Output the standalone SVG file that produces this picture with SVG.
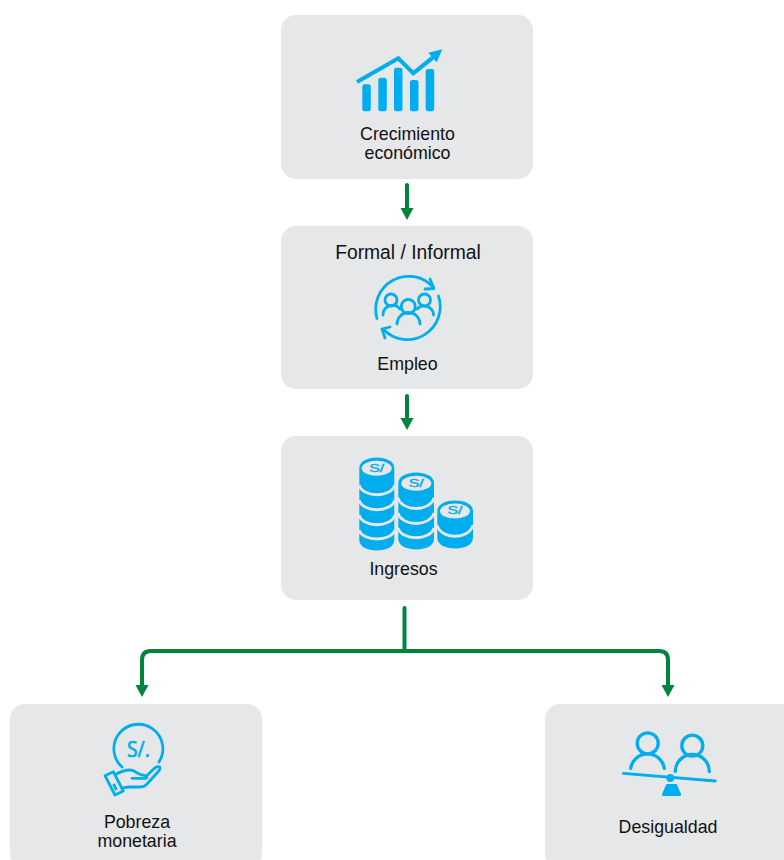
<svg xmlns="http://www.w3.org/2000/svg" width="784" height="860" viewBox="0 0 784 860">
<style>
.box{fill:#e6e7e8}
.t{font-family:"Liberation Sans",Arial,sans-serif;font-size:17.8px;fill:#111;text-anchor:middle}
.c{fill:none;stroke:#00843d;stroke-width:4;stroke-linecap:round}
.h{fill:#00843d}
.i{fill:none;stroke:#00aeef;stroke-width:2.8;stroke-linecap:round;stroke-linejoin:round}
.e{stroke-width:3.3}
.f{fill:#00aeef}
.s{font-family:"Liberation Sans",Arial,sans-serif;font-size:11px;fill:#00aeef;stroke:#00aeef;stroke-width:.4;text-anchor:middle}
.sep{fill:none;stroke:#e6e7e8;stroke-width:2.8}
.top{fill:#e6e7e8}
</style>
<g id="connectors">
<path d="M407 185V207" class="c"/><path class="h" d="M400.500 208H413.500L407 220Z"/>
<path d="M407 396V417" class="c"/><path class="h" d="M400.500 418H413.500L407 430Z"/>
<path d="M404.500 608V651" class="c"/>
<path d="M142 686V660Q142 651 151 651H659Q668 651 668 660V686" class="c"/>
<path class="h" d="M135.500 685H148.500L142 697Z"/><path class="h" d="M661.500 685H674.500L668 697Z"/>
</g>
<g id="n1">
<rect class="box" x="281" y="15" width="252" height="164" rx="15"/>
<path d="M357 82L398.300 58.300L413.300 73.300L436 55" fill="none" stroke="#00aeef" stroke-width="4.200"/>
<path class="f" d="M428.300 52.700L442.300 49.300L436.700 62.300Z"/>
<rect class="f" x="362.300" y="84.300" width="8.500" height="27" rx="2.500"/>
<rect class="f" x="378.300" y="77.700" width="8.500" height="33.600" rx="2.500"/>
<rect class="f" x="394" y="67.700" width="8.500" height="43.600" rx="2.500"/>
<rect class="f" x="410" y="80" width="8.500" height="31.300" rx="2.500"/>
<rect class="f" x="425.700" y="69" width="8.500" height="42.300" rx="2.500"/>
<text class="t" x="407.500" y="139.500">Crecimiento</text>
<text class="t" x="407.500" y="158.500">económico</text>
</g>
<g id="n2">
<rect class="box" x="281" y="226" width="252" height="163" rx="15"/>
<text class="t" x="408" y="258.500" style="font-size:19.300px">Formal / Informal</text>
<path class="i" d="M377 318.500A33 33 0 0 1 433 287"/><path class="i" d="M430 279L434 288.500L425 289"/>
<path class="i" d="M438.500 296A33 33 0 0 1 384 330"/><path class="i" d="M390 327L382 329L385 338"/>
<circle class="i" cx="391" cy="300" r="6"/><circle class="i" cx="424.500" cy="300" r="6"/><circle class="i" cx="408.300" cy="306.500" r="7"/>
<path class="i" d="M383 315A9.500 9.500 0 0 1 400 309"/><path class="i" d="M417 309A9.500 9.500 0 0 1 433.500 315"/><path class="i" d="M397 324A11.500 11.500 0 0 1 420 324"/>
<text class="t" x="407.500" y="369.500">Empleo</text>
</g>
<g id="n3">
<rect class="box" x="281" y="436" width="252" height="164" rx="15"/>
<path class="f" d="M359.300 468C359.300 454 394.300 454 394.300 468V540C394.300 554 359.300 554 359.300 540Z"/>
<path class="sep" d="M359 485C363 498 391 498 395 485M359 500C363 513 391 513 395 500M359 515C363 528 391 528 395 515M359 530C363 542 391 542 395 530"/>
<ellipse class="top" cx="376.700" cy="468.300" rx="15" ry="7.500"/>
<text class="s" x="376.700" y="471.700" textLength="15" lengthAdjust="spacingAndGlyphs">S/</text>
<path class="f" d="M398.300 483C398.300 469 434 469 434 483V539C434 553 398.300 553 398.300 539Z"/>
<path class="sep" d="M398 498C402 512 430 512 434 498M398 513C402 527 430 527 434 513M398 528C402 541 430 541 434 528"/>
<ellipse class="top" cx="416.300" cy="483.300" rx="15" ry="7.500"/>
<text class="s" x="416.300" y="486.700" textLength="15" lengthAdjust="spacingAndGlyphs">S/</text>
<path class="f" d="M437.300 511C437.300 497 473 497 473 511V538C473 552 437.300 552 437.300 538Z"/>
<path class="sep" d="M437 525C441 540 469 540 473 525"/>
<ellipse class="top" cx="455" cy="511" rx="15" ry="7.500"/>
<text class="s" x="455" y="514.300" textLength="15" lengthAdjust="spacingAndGlyphs">S/</text>
<text class="t" x="403.500" y="574.500">Ingresos</text>
</g>
<g id="n4">
<rect class="box" x="10" y="704" width="252" height="164" rx="15"/>
<path class="i" d="M122 767A24.500 24.500 0 1 1 159 762"/>
<text x="138.500" y="757" textLength="23" lengthAdjust="spacingAndGlyphs" style="font-family:'Noto Sans',sans-serif;font-size:22px;fill:#00aeef;stroke:#00aeef;stroke-width:.6;text-anchor:middle">S/.</text>
<path class="i" d="M105 775.700L113.300 771.700L123.300 791L115 795Z"/>
<path class="i" d="M116 774.300C120 772 125 770 130 770C134 770 137 773 140 774.300L145 775.700C147.500 776.500 147.500 778.300 145 778.300H132M146.700 775.700L155 767.700C157 766.500 160 766 160 768C160 770 158.500 771.500 157 773L147 784C145.500 786 143 787 140 787H130L123.500 787.700"/>
<path class="i" d="M114 785L116 789"/>
<text class="t" x="137" y="828">Pobreza</text>
<text class="t" x="137" y="847">monetaria</text>
</g>
<g id="n5">
<rect class="box" x="545" y="704" width="252" height="164" rx="15"/>
<circle class="i e" cx="647.700" cy="743.300" r="10.500"/><circle class="i e" cx="692.300" cy="745.700" r="10.500"/>
<path class="i e" d="M630.700 768.300A17 17 0 0 1 664.300 768.300"/><path class="i e" d="M675.300 771.500A17 17 0 0 1 709.300 771.500"/>
<path class="i" d="M623.300 773.300L715.300 781"/>
<circle class="f" cx="670.300" cy="778" r="4"/>
<path class="f" d="M666.500 784H676.500L681 794Q681.500 796 679 796H664Q661.500 796 662 794Z"/>
<text class="t" x="668" y="832.500">Desigualdad</text>
</g>
</svg>
